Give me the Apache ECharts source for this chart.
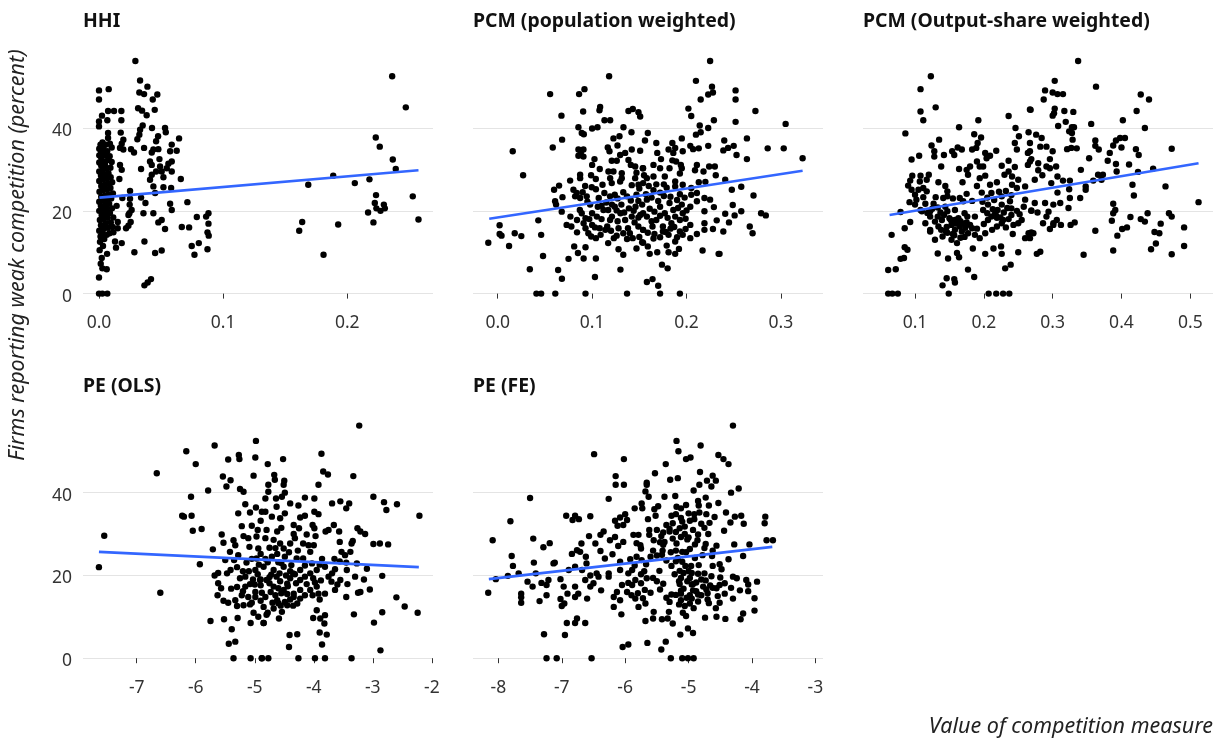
<!DOCTYPE html>
<html><head><meta charset="utf-8">
<style>html,body{margin:0;padding:0;background:#fff}#c{width:1219px;height:743px}</style>
<script src="https://cdn.jsdelivr.net/npm/echarts@6/dist/echarts.min.js"></script>
</head><body><div id="c"></div>
<script>
const panelTitles=["HHI","PCM (population weighted)","PCM (Output-share weighted)","PE (OLS)","PE (FE)"];
const yTicks=[0,20,40];
const ticksHHI=[0,0.1,0.2], ticksPop=[0,0.1,0.2,0.3], ticksOut=[0.1,0.2,0.3,0.4,0.5], ticksOLS=[-7,-6,-5,-4,-3,-2], ticksFE=[-8,-7,-6,-5,-4,-3];
const fitHHI=[[0.0003,23.2],[0.2574,29.8]], fitPop=[[-0.009,18.1],[0.323,29.7]], fitOut=[[0.063,19],[0.512,31.5]], fitOLS=[[-7.64,25.7],[-2.22,22]], fitFE=[[-8.15,19.1],[-3.68,26.9]];

const hhi=[[.0293,56.2],[.0331,51.5],[.039,50],[0,49.1],[.0078,49.4],[0,46.9],[.0325,48.6],[.0363,48.2],[.047,48.1],[.0433,46.9],[.0315,44.8],[.0347,44.2],[.0449,44.4],[.0384,43.1],[.0073,44.1],[.0121,44.1],[.018,44.1],[.0024,43],[.018,41.9],[.0067,41.9],[0,41.6],[0,40.4],[.0352,40.6],[.0331,39.6],[.0427,40],[.0532,40],[.0538,39],[.0073,38.8],[.0175,38.9],[.0073,37.6],[.0325,38.4],[.0309,37.3],[.0476,38],[.046,36.8],[.0645,37.5],[.0196,37.2],[.0183,36.2],[.0586,36],[.0626,34.5],[.0573,34.4],[.0363,35.2],[.0438,34.8],[.0478,34.9],[.0169,35.2],[.0196,34.8],[.0258,34.9],[.0282,34.1],[.0425,34.1],[.0487,32.5],[.0586,31.9],[.0559,31.4],[.0411,31.9],[.0425,31.1],[.0492,30.7],[.0546,30.3],[.0586,29.5],[.046,29.5],[.0505,29.5],[.0339,30.1],[.0425,28.7],[.0411,27.5],[.0519,28.1],[.0659,27.7],[.0169,31.1],[.0183,29.9],[.0164,27.7],[.0438,25.9],[.0519,25.7],[.0581,25.5],[.0452,24.3],[.025,24.8],[.025,22.9],[.0339,23.2],[.0374,21.9],[.0188,23.1],[.0142,21.2],[.0247,21.5],[.0263,20.2],[.0245,19.4],[.0237,19],[.0358,19.4],[.0438,19.4],[.0573,21.7],[.0586,20.2],[.0712,22.1],[.0788,18.5],[.0882,19.4],[.0863,18.6],[.0882,16.9],[.0874,14.8],[.0884,14],[.0874,10.7],[.0667,16.1],[.0726,16],[.0505,17.8],[.0478,17.2],[.0532,15.6],[.0255,17.3],[.0237,16.4],[.0218,15.8],[.0151,17.3],[.0151,15.8],[.0116,14.8],[.0129,12.6],[.0183,12.2],[.0137,11.1],[.0366,12.6],[.0285,10],[.0452,9.8],[.0505,10.4],[.0747,11.5],[.0804,12.2],[.0769,9.4],[0,3.9],[.0062,5.9],[.0027,6.1],[.0419,3.5],[.0392,2.7],[.0366,2],[0,0],[.0027,0],[.0067,0],
[.2362,52.5],[.2472,45],[.223,37.7],[.2262,35.5],[.2367,32.4],[.2391,30.1],[.1887,28.5],[.1686,26.3],[.2061,26.7],[.2179,27.6],[.2232,23.8],[.2528,23.5],[.2222,21.9],[.2295,21.5],[.2235,20.6],[.2268,20],[.2303,20.6],[.2168,19.6],[.2574,17.9],[.2211,17.2],[.1637,17.3],[.1613,15.2],[.1927,16.7],[.1809,9.4],
[.0065,9.6],[.0022,8.6],[.0005,10.5],[.0014,7.2],[.0032,11.5],[.0008,12.5],[.0042,13.2],[.0012,13.8],[.0025,14.5],[.0062,14.2],[.0085,14.6],[.0002,15.2],[.0038,15.6],[.0072,15.9],[.011,16.1],[.0016,16.5],[.0052,17],[.0095,17.2],[.0007,17.8],[.0032,18.1],[.0068,18.3],[.0115,18.4],[.0021,19],[.0048,19.3],[.0088,19.5],[.0002,20],[.0036,20.2],[.0062,20.5],[.0105,20.6],[.0015,21.2],[.0052,21.5],[.0082,21.7],[.0002,22.2],[.0033,22.5],[.0068,22.8],[.0098,23],[.0018,23.4],[.0048,23.7],[.0078,24],[.0112,24.2],[.0004,24.6],[.0032,25],[.0062,25.2],[.0092,25.5],[.0018,26],[.0048,26.3],[.0076,26.6],[.0106,26.9],[.0002,27.2],[.0034,27.5],[.0064,27.8],[.0094,28.1],[.0016,28.5],[.0046,28.8],[.0076,29.1],[.0002,29.5],[.0032,29.9],[.0058,30.2],[.0092,30.4],[.0018,30.9],[.0048,31.2],[.0002,31.7],[.0034,32],[.0072,32.3],[.0102,31.8],[.0018,32.8],[.0002,33.4],[.0048,33.5],[.0086,33.2],[.0016,34.2],[.0066,34.4],[.0002,35],[.0036,35.2],[.0102,35.3],[.0012,36],[.0056,36],[.0028,36.5],[.0088,36.2]];

const pop=[[.118,52.5],[.0555,48.2],[.0919,49.4],[.0862,48.2],[.0675,43],[.0905,44],[.1085,45.1],[.1078,44.3],[.1131,41.9],[.1191,41.9],[.1385,44.1],[.1431,44.6],[.1491,43.8],[.1509,42.8],[.0855,40.2],[.089,38.8],[.0912,38.5],[.1,39.9],[.1057,40.2],[.1332,40.2],[.1417,39],[.0682,37.2],[.0583,35.3],[.0159,34.4],[.0269,28.6],[.0855,34.8],[.0908,34.8],[.0855,33.3],[.0908,33.1],[.088,34],[.1226,37.5],[.129,38],[.1166,35.3],[.1184,34.4],[.1269,35.8],[.1025,32.5],[.1,31.1],[.1208,32.1],[.1261,32.1],[.1297,33.5],[.135,34],[.142,34.8],[.1509,34.5],[.1385,32.3],[.141,31.1],[.1456,30.7],[.1537,30.3],[.1081,30.1],[.0873,28.7],[.0873,27.9],[.0767,27.3],[.0989,28.6],[.1039,27.7],[.1173,29.5],[.1226,29.5],[.1314,29.1],[.1314,27.9],[.1191,27.9],[.1208,26.7],[.1297,27.1],[.1456,27.9],[.1491,26.3],[.111,26.3],[.065,26.1],[.0597,25.1],[.0686,23.3],[.0608,22.3],[.0618,21.5],[.0678,19.8],[.0802,25.1],[.0837,24.3],[.082,23.5],[.0926,26],[.0996,25.7],[.0873,23.1],[.0943,23.5],[.0979,21.5],
[.107,23.1],[.113,24.3],[.119,23.5],[.124,23.9],[.137,23.5],[.147,23.9],[.087,20.2],[.089,19.4],[.1,19.4],[.084,17.8],[.077,18.6],[.073,16.6],[.078,16.2],[.084,14.8],[.091,17],[.1,16.6],[.093,15.8],[.096,14.6],[.099,13.8],[.104,13.4],[.109,14.2],[.093,18.2],[.11,18],[.116,16.2],[.114,15.4],[.112,20.2],[.117,20.2],[.124,21],[.131,21.5],[.139,20.6],[.146,21],[.153,21.5],[.121,18.6],[.13,19.4],[.135,17.8],[.142,18.6],[.151,19],[.128,15.8],[.133,14.6],[.14,14.6],[.149,16.2],[.154,15.4],[.123,13.4],[.117,12.2],[.128,10.7],[.133,9.4],[.147,10.9],[.153,12.4],[.081,11.4],[.085,9.8],[.093,11.2],[.075,8.4],[.091,8.5],[.104,8.5],[.064,5.7],[.068,3.6],[.103,4],[.13,5.8],[.034,5.9],[.048,9.1],[.046,14.2],[.043,17.7],[.002,16.5],[.002,14.4],[.004,14],[.018,14.6],[.025,13.9],[.012,11.5],[-.01,12.3],[.041,0],[.046,0],[.061,0],[.093,0],[.137,0],
[.225,56.2],[.21,51.4],[.227,50],[.252,49.1],[.228,48.6],[.223,48.1],[.215,46.9],[.252,46.9],[.202,44.7],[.205,42.9],[.273,44.1],[.229,41.9],[.252,41.5],[.305,41],[.214,40.6],[.223,40],[.21,38.4],[.215,39],[.159,38.8],[.156,37],[.195,37.5],[.168,36.4],[.185,36.4],[.24,37],[.264,37.5],[.204,35.7],[.207,34.9],[.213,35.1],[.223,35.7],[.25,35.7],[.244,35.2],[.239,34.6],[.286,35.1],[.303,35.1],[.253,33.5],[.264,32.5],[.323,32.7],[.181,34.8],[.188,35.2],[.196,34.4],[.186,34],[.169,34],[.173,32.5],[.185,32.2],[.189,31.9],[.194,31.1],[.195,30.3],[.165,31.1],[.172,30.3],[.182,30.3],[.154,30.3],[.193,29],[.211,31.1],[.209,29.8],[.218,29.5],[.224,30.7],[.23,30.7],[.231,28.6],[.177,28.3],[.158,27.9],[.165,28.3],[.188,27.1],[.188,25.9],[.213,26.9],[.22,27],[.241,27.5],[.248,25.1],[.258,25.8],[.271,23.7],[.249,21.4],[.258,19.9],[.251,18.9],[.279,19.4],[.284,18.9],[.196,26.3],[.205,25.5],[.179,25.6],[.172,24.4],[.193,24],[.154,26.7],[.205,23.9],[.211,24.3],[.219,23.1],[.225,22.7],[.211,22.3],[.229,20.9],[.219,19.9],[.204,21],[.182,21.9],[.195,21.5],[.158,22.7],[.166,19.8],[.177,19.4],[.186,20.2],[.196,19.4],[.154,19.4],[.168,17.8],[.184,17],[.193,17.8],[.204,16.6],[.219,17],[.232,17.7],[.241,19.3],[.245,17.2],[.154,15.4],[.164,16.2],[.175,16.2],[.181,14.2],[.193,15],[.204,13.4],[.211,14.4],[.219,15.4],[.228,15.6],[.239,15],[.267,16.2],[.27,14.6],[.154,12.3],[.159,11.4],[.161,9.6],[.169,10],[.179,11.6],[.188,12.6],[.192,10.8],[.181,10],[.188,9.6],[.217,10.4],[.234,9.6],[.235,9.6],[.174,7],[.18,6.1],[.158,2.8],[.164,3.5],[.17,1.9],[.172,0],[.193,0],
[.158,18.6],[.163,17.5],[.172,18.8],[.18,18.3],[.188,18.6],[.199,18.1],[.175,15],[.187,16.1],[.199,15.6],[.161,20.5],[.172,21],[.191,20.7],[.2,20.1],[.166,14.4],[.183,15.7],[.145,17.2],[.138,15.8],[.127,17.5],[.119,17.8],[.144,20],[.126,20.1],[.134,19.6],[.149,18.4],[.159,14.7],[.19,13.6],[.196,14.2],
[.106,21],[.115,22],[.121,21.5],[.127,23],[.133,24.5],[.141,22.5],[.149,22.4],[.157,24],[.163,23.2],[.17,22.4],[.176,23.6],[.183,23.4],[.19,22.6],[.198,23.2],[.15,25.4],[.142,26.2],[.16,26],[.168,26.4],[.155,28.6],[.147,29.2],[.176,26.4],[.105,18.6],[.097,18],[.103,16],[.108,15.8],[.12,15.2],[.126,14],[.137,13.2],[.143,13.4],[.15,13.7],[.165,13.3],[.172,13.6],[.178,14.9],[.11,21.2],[.095,22.2],[.09,24.5],[.104,25.2],[.165,25]];

const out=[[.123,52.5],[.108,49.4],[.108,44],[.13,45],[.112,41.9],[.086,38.7],[.164,40.2],[.192,41.9],[.236,42.9],[.267,44.5],[.246,40],[.265,39],[.251,38],[.186,38.5],[.196,37.7],[.135,37.2],[.124,35.8],[.128,34.4],[.128,33.1],[.142,33.5],[.154,34.4],[.157,33.5],[.162,35.3],[.168,34.8],[.183,34.8],[.189,35.2],[.191,36.4],[.202,34],[.209,33.3],[.204,32.7],[.218,34.5],[.245,36.4],[.248,34.8],[.267,36.4],[.267,34.4],[.264,34],[.095,32.4],[.106,33.3],[.138,30.7],[.164,30.1],[.175,29.9],[.18,30.7],[.177,28.7],[.19,31.9],[.194,30.7],[.199,30.7],[.226,30.9],[.236,32.1],[.245,30.6],[.236,29.5],[.23,28.7],[.267,31.9],[.264,31.1],[.096,28.5],[.108,28.5],[.12,28.7],[.093,27.3],[.09,26.1],[.095,25.1],[.107,27.1],[.117,27.5],[.112,25.5],[.105,25.1],[.117,24.7],[.1,23.9],[.102,22.7],[.092,22.1],[.112,23.3],[.1,21.5],[.134,26.9],[.144,26],[.147,24.7],[.141,23.1],[.165,23.1],[.147,23.5],[.169,26.9],[.194,27.9],[.202,28.5],[.209,26.3],[.219,26.9],[.241,28.3],[.25,27.5],[.26,25.9],[.241,26.3],[.248,25.5],[.175,24.1],[.197,24.4],[.211,24.3],[.226,23.5],[.079,19.7],[.127,21.7],[.144,21],[.158,20.2],[.172,19.4],[.187,18.6],[.206,21.5],[.213,20.4],[.199,20.2],[.226,21.5],[.238,22.3],[.26,22.7],[.258,21],[.269,20],[.093,17.3],[.085,15.8],[.066,14.2],[.115,17],[.122,18.6],[.129,17.4],[.139,17.8],[.122,15.4],[.122,15],[.129,13],[.138,15.4],[.14,13.8],[.153,16.6],[.158,15.4],[.168,17],[.18,16.6],[.168,15],[.153,13],[.161,12.2],[.177,14.6],[.187,14.2],[.194,13.4],[.202,14.6],[.212,15.4],[.219,16.2],[.228,17.8],[.24,19],[.25,17],[.255,17.8],[.243,16.6],[.206,17.8],[.226,17],[.211,18.6],[.242,14.4],[.26,13.4],[.269,14.8],[.265,14.6],[.085,11.2],[.089,10.6],[.079,8.4],[.084,8.6],[.061,5.7],[.072,5.9],[.133,9.7],[.148,8.5],[.161,9.8],[.164,8.8],[.184,10.9],[.202,9.6],[.214,10.9],[.225,11.4],[.226,9.6],[.25,10],[.177,5.8],[.186,4],[.231,6.1],[.239,7],[.146,3.7],[.157,3.5],[.158,2.7],[.14,2],[.061,0],[.067,0],[.075,0],[.149,0],[.207,0],[.218,0],[.228,0],[.237,0],
[.337,56.2],[.303,51.4],[.363,50],[.289,49.1],[.3,48.6],[.307,48.2],[.315,48.2],[.287,46.9],[.428,48.1],[.44,46.9],[.268,44.4],[.303,44.7],[.302,43.6],[.3,43],[.317,44.1],[.33,43.9],[.422,44.1],[.319,41.5],[.356,41],[.402,41.9],[.308,40.5],[.328,40.2],[.331,40.2],[.324,39.2],[.328,38.8],[.329,37.2],[.434,40],[.276,38.4],[.284,37.6],[.362,37],[.362,35.7],[.367,34.8],[.282,35.5],[.291,35.5],[.3,34.4],[.321,34.9],[.327,35.2],[.335,35.1],[.405,37.6],[.398,37.6],[.392,37],[.388,35.8],[.4,35.3],[.383,34],[.473,35],[.421,34.9],[.425,33.5],[.353,32.7],[.38,32.1],[.296,32.5],[.269,32.5],[.279,31.5],[.296,30.3],[.305,30.7],[.291,30.7],[.279,29.8],[.392,31.3],[.393,29.5],[.411,31.2],[.341,29.9],[.424,29.4],[.446,30.2],[.285,28.6],[.274,27.5],[.307,28.3],[.315,27.3],[.325,27.3],[.359,27.3],[.366,28.7],[.373,28.7],[.371,27.5],[.298,26.7],[.324,25.2],[.348,25.9],[.348,25.1],[.416,26.3],[.418,23.7],[.464,25.9],[.307,24.4],[.325,23.1],[.34,23.1],[.323,20.7],[.388,21.7],[.391,20.2],[.388,19.4],[.386,17.6],[.512,22.1],[.311,21.9],[.301,21.5],[.289,21.9],[.274,21.9],[.269,20.1],[.278,19.6],[.294,19.8],[.291,18.6],[.306,17.8],[.301,17],[.312,16.6],[.286,17],[.301,16.6],[.296,15.6],[.332,17.2],[.326,16.6],[.413,18.5],[.428,18],[.434,17.4],[.438,19.4],[.469,19.4],[.473,18.6],[.457,16.9],[.491,16],[.408,16],[.401,15.6],[.394,14],[.362,15.2],[.448,14.9],[.455,14.6],[.45,12.1],[.443,10.7],[.491,11.5],[.388,10.4],[.473,9.5],[.345,9.4],[.277,9.6],[.282,10.1],[.272,14.6],[.267,13.4],
[.133,20.8],[.137,19.6],[.147,19.9],[.152,17.8],[.163,18.2],[.176,18.6],[.146,16.1],[.16,16.9],[.173,15.9],[.147,14.7],[.157,14.1],[.166,13.5],[.216,19.2],[.22,20.2],[.229,19.6],[.234,20.7],[.219,18.3],[.205,19.4],[.24,20.6],[.115,21.7],[.108,20.2],[.122,19.9],[.134,16.2],
[.11,19.9],[.118,19.5],[.125,20.5],[.133,18.6],[.142,19],[.15,18.2],[.158,17.8],[.166,17.5],[.175,17.2],[.145,15],[.155,14.4],[.165,16.2],[.172,13.7],[.183,15.8],[.19,15.7],[.2,16.8],[.218,18.8],[.224,18.4],[.232,16],[.236,18],[.248,20],[.252,19.2],[.198,22.2],[.205,23.2],[.215,22.6],[.222,24.6],[.232,24.8],[.24,23.8],[.13,23.3],[.155,23],[.17,22.3],[.183,22.4],[.19,26]];

const ols=[[-4.98,52.5],[-5.68,51.4],[-6.16,50],[-6,46.9],[-6.66,44.7],[-5.27,49.1],[-5.26,48.1],[-5.45,48],[-4.99,48.5],[-5.02,44.1],[-5.54,43.9],[-5.41,43],[-5.48,41.5],[-5.79,40.5],[-6.08,39],[-5.25,40.9],[-5.19,40.2],[-5.16,37.2],[-6.23,34.4],[-6.2,34.2],[-6.07,34.4],[-6.05,30.8],[-5.9,31.2],[-7.55,29.6],[-7.64,22],[-6.6,15.8],[-5.93,22.7],[-5.71,26.3],[-5.56,29.9],[-5.53,27.9],[-5.28,35],[-5.08,35.2],[-4.98,36.4],[-4.88,35.4],[-5.22,31.9],[-5.05,32],[-5.36,28.5],[-5.19,29.5],[-5.11,29],[-4.97,29.4],[-5.33,27.3],[-5.42,25.7],[-5.28,24.9],[-5.09,26.9],[-4.94,26.5],[-5.5,23.7],[-5.35,23.7],[-5.14,23.1],[-4.97,24.1],[-5.68,20],[-5.62,20.6],[-5.47,20.5],[-5.41,21.3],[-5.62,18.1],[-5.57,16.9],[-5.63,15.2],[-5.25,19.3],[-5.16,19.7],[-4.99,21.3],[-4.91,18.9],[-5.16,17.3],[-4.99,16],[-5.22,15.2],[-5.11,14.8],[-5.33,14],[-5.53,13.9],[-5.45,13.4],[-5.19,12.8],[-4.99,14.8],[-5.02,11],[-4.94,10],[-4.85,8.5],[-5.75,9],[-5.52,9.4],[-5.29,9.7],[-5.07,8.5],[-5.39,7],[-5.33,4],[-5.44,3.5],[-5.36,0],[-5.07,0],[-4.88,0],
[-3.23,56.2],[-3.87,49.4],[-4.52,48.1],[-4.78,46.9],[-3.84,45.1],[-3.76,44.4],[-3.33,44],[-3.92,41.9],[-4.67,44.3],[-4.66,43.1],[-4.5,42.9],[-4.51,41.9],[-4.77,41.9],[-4.77,40.2],[-4.82,38.6],[-4.54,39],[-4.49,40],[-4.64,38.6],[-4.4,37.4],[-4.26,36.9],[-4.15,38.8],[-3.99,38.6],[-3.69,37.4],[-3.55,37.9],[-3.4,37.4],[-3.45,36.2],[-2.99,39],[-2.81,37.7],[-2.59,37.2],[-2.77,35.8],[-2.21,34.4],[-4.82,35.4],[-4.63,36.6],[-4.49,35],[-4.71,34.2],[-4.57,33.8],[-4.23,34],[-4.15,34.4],[-3.99,35.4],[-3.92,34.8],[-4.02,32.2],[-3.99,31.4],[-4.34,32.2],[-4.25,31.4],[-4.34,30],[-4.8,31],[-4.62,30.6],[-3.8,30.6],[-3.75,31],[-3.66,32.2],[-3.57,30.6],[-4.12,29.9],[-3.97,29.5],[-3.26,31.4],[-3.21,30.6],[-3.13,30],[-3.56,28.1],[-3.34,28.3],[-3.36,27.7],[-2.99,27.6],[-2.88,27.7],[-2.74,27.5],[-4.4,27.7],[-4.32,29],[-4.57,27.7],[-4.51,26.5],[-4.09,27.3],[-4,27.3],[-4.06,25.7],[-3.53,25.7],[-3.38,25.7],[-3.47,24.9],[-3.45,23.1],[-3.27,22.9],[-3.1,21.6],[-2.84,19.9],[-3.44,21.3],[-4.71,24.5],[-4.49,24.5],[-4.29,24.1],[-4.18,24.1],[-3.86,24],[-3.81,22.1],[-3.64,21.5],[-3.75,19.7],[-3.69,20.5],[-4.85,22.1],[-4.68,21.3],[-4.51,22.1],[-4.23,21.3],[-4.06,20.5],[-3.95,21.3],[-4.8,18.9],[-4.63,19.7],[-4.4,19.3],[-4.23,18.9],[-4.01,19.3],[-4.68,17.3],[-4.51,16.5],[-4.34,15.6],[-4.23,16.5],[-4.06,16.5],[-3.95,17.3],[-3.92,15.6],[-3.81,15.6],[-3.55,18.9],[-3.43,17.9],[-3.64,16.5],[-3.45,14.8],[-3.25,15.8],[-3.21,16],[-3.05,16.6],[-4.82,14.8],[-4.65,15.2],[-4.49,13.6],[-4.23,14.4],[-4.34,14.8],[-4.85,12.4],[-4.68,12],[-4.54,11.2],[-4.59,9.6],[-4.85,8.5],[-3.95,11.6],[-4.01,9.7],[-3.89,9.6],[-3.81,10.4],[-3.82,8.4],[-3.32,10.6],[-2.84,11.1],[-2.98,8.6],[-2.6,14.7],[-2.46,12.5],[-2.24,11],[-4.41,5.6],[-4.28,5.8],[-4.42,2.7],[-3.9,6.2],[-3.78,5.7],[-3.86,3.3],[-2.87,1.9],[-4.88,0],[-4.77,0],[-4.26,0],[-3.98,0],[-3.81,0],[-3.36,0],
[-4.72,20.2],[-4.58,20.5],[-4.47,20],[-4.75,18.1],[-4.57,18.6],[-4.45,18],[-4.32,20.3],[-4.6,16.9],[-4.73,16],[-4.45,15.5],[-4.62,14],[-4.7,13.4],[-4.56,12.7],[-4.9,17.6],[-4.88,15.8],[-4.9,13.9],[-4.95,20.3],[-5.03,19],[-5.08,17.9],[-5.05,13.4],[-4.78,11],[-4.44,17.4],[-4.3,18.1],[-4.15,19.7],[-4.12,17.9],[-3.98,18.3],[-3.88,18.8],[-4.9,25.2],[-4.78,23.2],[-4.6,23.2],[-4.82,29],[-4.68,28.6],[-4.95,31],[-4.9,33.2],[-4.55,31.5],
[-4.93,22.6],[-4.82,24],[-4.62,25.2],[-4.42,25.6],[-4.27,26],[-4.18,27.7],[-4.75,26.7],[-4.65,26.6],[-4.55,23],[-4.38,22.5],[-4.15,22.4],[-4.03,22.9],[-3.9,22.6],[-4.4,21],[-4.35,20.5],[-4.75,19.6],[-4.9,19],[-4.55,15.7],[-4.4,14.2],[-4.28,13.2],[-4.15,15.2],[-4.02,15.2],[-3.9,14.2],[-4.45,12.8],[-4.35,12.7],[-4.8,10.5],[-4.6,13.3],[-5.2,21],[-5.3,22],[-5.05,24],[-5.1,21],[-5,17.8],[-5.3,17.2],[-5.2,16.2],[-5.4,16.8],[-5.08,13],[-5.3,12.6],[-3.7,18.5],[-3.6,17.8],[-3.3,19.7],[-3.15,19],[-3.56,23.4],[-3.65,24]];

const fe=[[-6.49,49.3],[-6.02,48.1],[-6.15,44],[-6.15,41.9],[-6.02,41.9],[-6.26,38.5],[-7.5,38.7],[-7.81,33.1],[-6.93,34.4],[-6.79,34.4],[-6.83,33.4],[-6.73,33.6],[-6.55,34.3],[-8.09,28.5],[-7.45,28.9],[-7.19,27.8],[-7.29,26.8],[-6.69,27.7],[-6.57,29.5],[-7.79,24.7],[-7.77,22.3],[-7.44,23.1],[-7.13,22.9],[-7.11,23.1],[-8.04,19.1],[-7.85,19.9],[-7.68,20.5],[-8.16,15.8],[-7.54,18.5],[-7.46,17.3],[-7.41,20.5],[-7.32,18.2],[-7.21,18.9],[-7.24,17.7],[-7.02,19.1],[-7.64,15.6],[-7.64,14.7],[-7.64,13.4],[-7.24,15.2],[-7.35,13.8],[-7.02,14.3],[-6.96,13.2],[-7,12.6],[-6.97,17.3],[-6.91,15.6],[-6.79,17.3],[-6.79,14.8],[-6.74,15.6],[-6.6,14.4],[-6.84,25.2],[-6.76,26.1],[-6.71,25.7],[-6.62,24.5],[-6.61,22.9],[-6.79,22.1],[-6.89,21.3],[-6.68,21.3],[-6.55,20],[-6.45,20.5],[-6.42,19.7],[-6.63,18.9],[-6.55,17.3],[-6.5,18.1],[-6.38,16.4],[-6.92,8.5],[-6.76,9.6],[-6.79,8.5],[-6.63,8.5],[-7.28,5.8],[-6.95,5.6],[-7.24,0],[-7.08,0],[-6.53,0],[-6.47,27.7],[-6.39,29.8],[-6.34,30.6],[-6.39,25.9],[-6.32,24.1],[-6.2,25.1],[-6.24,28.5],[-6.16,29.3],[-6.11,27.1],[-6.03,28.1],[-6.16,33.2],[-6.08,34],[-6,34.8],[-5.97,33.4],[-6.12,32],[-6.03,32.2],[-5.85,36.2],[-5.74,37.4],[-5.87,29.8],[-5.79,29.8],[-5.82,27.8],[-5.76,27.3],[-6.26,20.5],[-6.26,19.7],[-6.08,23.3],[-6.08,21.3],[-5.95,20.5],[-5.89,21.3],[-5.82,24.5],[-5.92,23.9],[-5.74,23.7],[-6.05,17.7],[-6.13,16],[-6.18,14.8],[-5.97,16],[-5.84,14.4],[-5.79,12.4],[-6.18,12.4],[-6.06,10.6],[-6.08,14],[-5.84,18.9],[-5.89,17.7],[-6.04,2.7],[-5.95,3.3],
[-4.3,56.2],[-5.19,52.5],[-4.81,51.4],[-5.16,50],[-5.04,48.1],[-4.97,48.5],[-5.36,46.9],[-4.53,49.1],[-4.45,48.1],[-4.37,46.9],[-5.53,44.7],[-5.66,42.4],[-5.66,41.9],[-5.29,43.1],[-5.17,43.5],[-4.82,45],[-4.71,42.9],[-4.62,44.1],[-4.57,42.9],[-4.64,41.5],[-4.83,41.9],[-4.92,40.5],[-5.68,40.3],[-5.63,39],[-5.38,39],[-5.21,39.2],[-4.33,40],[-4.21,41],[-4.85,38],[-4.84,36.9],[-4.73,38.8],[-5.04,37],[-4.53,37.5],[-4.68,36.9],[-5.48,36.7],[-5.54,36],[-5.73,36.2],[-5.19,36.6],[-5.12,36.2],[-4.91,34.8],[-4.83,35.2],[-5.52,34.4],[-5.27,34.4],[-5.64,33.6],[-5.12,33.9],[-4.98,33.2],[-4.91,33.6],[-4.72,34.8],[-4.67,32.7],[-4.59,34.1],[-4.41,35.2],[-4.34,32.8],[-4.27,34.2],[-4.17,34.4],[-3.79,34.2],[-3.8,32.6],[-4.13,32.5],[-5.35,32.2],[-5.25,32.6],[-5.14,31.4],[-5.06,31.8],[-5.62,31],[-5.62,29.8],[-5.43,29.5],[-4.93,31],[-4.85,29.9],[-4.69,30],[-5.06,30],[-4.44,30.8],[-5.25,28.9],[-5.19,27.7],[-5.38,28.1],[-3.77,28.5],[-3.67,28.5],[-4.73,27.6],[-4.56,27.2],[-4.28,27.5],[-4.04,27.5],[-4.98,26.4],[-5.04,25.6],[-5.56,26],[-5.41,26],[-5.75,26.5],[-4.78,24.9],[-4.63,24.7],[-4.14,24.7],[-4.37,23.9],[-5.17,24.2],[-5.67,22.7],[-5.27,22.3],[-4.96,22.3],[-4.84,22.5],[-4.62,22.3],[-4.51,22.7],[-5.46,21.1],[-5.56,19.4],[-5.66,19.3],[-5.14,21.1],[-4.48,21.5],[-5.12,19.4],[-4.98,19.4],[-4.8,19],[-4.64,19.8],[-5.14,17.9],[-4.93,17.9],[-4.66,17.6],[-5.12,16.3],[-5.45,16.6],[-4.3,19.7],[-4.24,19.3],[-4.09,18.9],[-3.92,18.5],[-4.06,17.8],[-4.51,17.7],[-4.43,18.1],[-4.56,16.9],[-4.33,17],[-4.19,16.4],[-4.06,16.2],[-3.96,14.5],[-4.43,15.6],[-4.54,15],[-5.12,15.6],[-4.93,16.4],[-4.77,17.3],[-4.98,15.2],[-4.8,15.2],[-5.12,14],[-5.75,18.1],[-5.69,16.5],[-5.72,14.5],[-5.68,13.2],[-5.35,14.6],[-5.27,15.4],[-5.3,13.6],[-5.31,11.2],[-4.92,12.1],[-4.85,13.7],[-4.3,14.4],[-4.68,13.3],[-4.51,13.4],[-4.57,12.1],[-3.96,11.5],[-4.14,10.8],[-4.18,9.4],[-4.74,9.8],[-4.56,10],[-4.42,9.5],[-5.55,11.2],[-5.56,9.6],[-5.68,9],[-5.42,9.4],[-5.33,9.6],[-5.25,8.4],[-5.09,11],[-5.04,10.2],[-5.13,5.7],[-5.01,7.2],[-4.93,6.1],[-5.65,3.7],[-5.36,4],[-5.43,2.1],[-5.28,0],[-5.1,0],[-5.01,0],[-4.92,0],
[-5.08,20.6],[-5.02,18.6],[-4.95,20.6],[-5.08,16.8],[-5.03,14.6],[-4.88,18.3],[-4.88,16.2],[-5.15,18.6],[-4.73,18.8],[-4.72,16.6],[-5.22,20.3],[-5.2,23.4],[-5.1,23.3],[-4.9,27.5],[-4.86,28.5],[-5.02,28.7],[-5.12,29.3],[-5.3,30.6],[-4.98,13.2],[-5.06,12.6],[-4.7,15.7],
[-5.6,24.5],[-5.5,24.8],[-5.35,23.6],[-5.42,25],[-5.7,21],[-5.85,22.4],[-5.28,25.6],[-5.1,25.7],[-5.2,26],[-4.9,24.2],[-4.75,26.6],[-4.62,26],[-5.05,22.3],[-4.85,20.4],[-4.75,20.5],[-4.95,17.8],[-5,21],[-5.2,15.3],[-5.15,13],[-4.95,14.4],[-4.85,15.4],[-4.7,14.2],[-4.62,17],[-4.5,19.5],[-5.4,18],[-5.5,18.6],[-5.6,15.8],[-5.8,15.7],[-5.9,15.2],[-5.95,18.2],[-5.75,20.3],[-5.5,31],[-5.4,30.4],[-5.3,31.2],[-5.2,30.5],[-5,29.2],[-5.1,33],[-5,35],[-5.2,34.8],[-4.75,31.5],[-4.8,32.5],[-5.45,28],[-5.55,28.5],[-5.4,27.4]];

const panels=[
 {data:hhi,fit:fitHHI,ticks:ticksHHI,xmin:-.0129,xmax:.2691,dec:1},
 {data:pop,fit:fitPop,ticks:ticksPop,xmin:-.0262,xmax:.3446,dec:1},
 {data:out,fit:fitOut,ticks:ticksOut,xmin:.0244,xmax:.533,dec:1},
 {data:ols,fit:fitOLS,ticks:ticksOLS,xmin:-7.91,xmax:-1.98,dec:0},
 {data:fe,fit:fitFE,ticks:ticksFE,xmin:-8.4,xmax:-2.88,dec:0}
];
const lefts=[83,473,863,83,473], tops=[49.4,49.4,49.4,414,414];
const FONT='"Noto Sans"';
const grid=[],xAxis=[],yAxis=[],series=[],title=[];
panels.forEach((p,i)=>{
 grid.push({left:lefts[i],top:tops[i],width:350,height:255.8});
 xAxis.push({type:'value',gridIndex:i,min:p.xmin,max:p.xmax,splitLine:{show:false},axisLine:{show:false},
  axisTick:{show:true,length:5,customValues:p.ticks,lineStyle:{color:'#333',width:1}},
  axisLabel:{show:true,customValues:p.ticks,margin:9,color:'#333',fontFamily:FONT,fontSize:17.5,hideOverlap:false,showMinLabel:true,showMaxLabel:true,
   formatter:v=>Number(v).toFixed(p.dec)}});
 yAxis.push({type:'value',gridIndex:i,min:-2.8,max:59,axisLine:{show:false},
  axisTick:{show:false,customValues:yTicks},
  splitLine:{show:true,lineStyle:{color:'#e4e4e4',width:1}},
  axisLabel:{show:i%3===0,customValues:yTicks,margin:11,verticalAlign:'top',padding:[-6,0,0,0],color:'#333',fontFamily:FONT,fontSize:17.5}});
 series.push({type:'scatter',xAxisIndex:i,yAxisIndex:i,data:p.data,symbolSize:6.4,itemStyle:{color:'#000',opacity:1},silent:true,animation:false,z:2});
 series.push({type:'line',xAxisIndex:i,yAxisIndex:i,data:p.fit,showSymbol:false,symbol:'none',lineStyle:{color:'#3366FF',width:2.6},silent:true,animation:false,z:3});
 title.push({text:panelTitles[i],left:lefts[i],top:i<3?12:377,padding:0,textStyle:{fontFamily:FONT,fontWeight:700,fontSize:19.4,color:'#111'}});
});
const chart=echarts.init(document.getElementById('c'),null,{renderer:'canvas'});
chart.setOption({animation:false,backgroundColor:'#fff',title,grid,xAxis,yAxis,series,
 graphic:[
  {type:'text',x:18,y:255,rotation:Math.PI/2,style:{text:'Firms reporting weak competition (percent)',x:0,y:0,align:'center',verticalAlign:'middle',fontFamily:FONT,fontStyle:'italic',fontSize:21.5,fill:'#222'}},
  {type:'text',x:1213,y:727,style:{text:'Value of competition measure',align:'right',verticalAlign:'middle',fontFamily:FONT,fontStyle:'italic',fontSize:21.5,fill:'#222'}}
 ]});
</script></body></html>
